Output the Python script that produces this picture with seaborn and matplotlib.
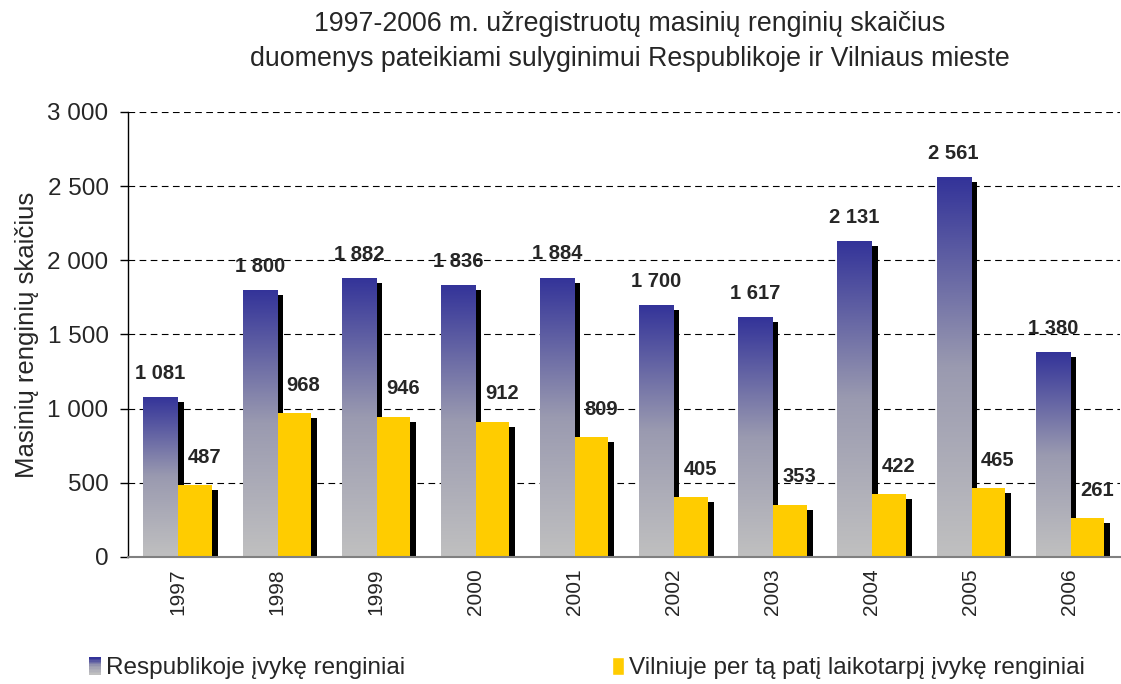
import numpy as np
import pandas as pd
import matplotlib
matplotlib.use('Agg')
import matplotlib.pyplot as plt
import matplotlib.patheffects as pe
from matplotlib.colors import LinearSegmentedColormap
from matplotlib.legend_handler import HandlerBase
from matplotlib.patches import Rectangle, Patch
from matplotlib.ticker import FuncFormatter
import seaborn as sns

# Data
years = ['1997', '1998', '1999', '2000', '2001', '2002', '2003', '2004', '2005', '2006']
respublika = [1081, 1800, 1882, 1836, 1884, 1700, 1617, 2131, 2561, 1380]
vilnius = [487, 968, 946, 912, 809, 405, 353, 422, 465, 261]
series_names = ['Respublikoje įvykę renginiai', 'Vilniuje per tą patį laikotarpį įvykę renginiai']

TITLE_1 = '1997-2006 m. užregistruotų masinių renginių skaičius'
TITLE_2 = 'duomenys pateikiami sulyginimui Respublikoje ir Vilniaus mieste'

BLUE_TOP = '#333399'
GRAY_BOTTOM = '#c0c0c0'
YELLOW = '#ffcc00'
grad_cmap = LinearSegmentedColormap.from_list('bluegray', [GRAY_BOTTOM, '#9a9ab0', BLUE_TOP])


def fmt_thousands(v, pos=None):
    return f'{int(v):,}'.replace(',', ' ')


class GradientHandler(HandlerBase):
    """ Legend handle with vertical gradient. """
    def create_artists(self, legend, orig_handle, xdescent, ydescent, width, height, fontsize, trans):
        n = 12
        arts = []
        for i in range(n):
            r = Rectangle((-xdescent, -ydescent + i * height / n), width, height / n + 0.3,
                          facecolor=grad_cmap(i / (n - 1)), edgecolor='none', transform=trans)
            arts.append(r)
        return arts


sns.set_style('white')
plt.rcParams['font.family'] = ['Liberation Sans', 'DejaVu Sans']

df = pd.DataFrame({
    'year': years * 2,
    'value': respublika + vilnius,
    'series': [series_names[0]] * len(years) + [series_names[1]] * len(years),
})

fig = plt.figure(figsize=(11.21, 6.84), dpi=100)
ax = fig.add_axes([0.1142, 0.1857, 0.8845, 0.6506])

sns.barplot(data=df, x='year', y='value', hue='series', palette=[BLUE_TOP, YELLOW],
            width=0.69, gap=0, saturation=1, ax=ax, legend=False, errorbar=None)

# Shadows and gradient
shadow = [pe.SimplePatchShadow(offset=(4.3, -3.6), shadow_rgbFace='black', alpha=1), pe.Normal()]
n = len(years)
bars = list(ax.patches)
grad = np.linspace(1, 0, 256).reshape(-1, 1)
for i, p in enumerate(bars):
    p.set_path_effects(shadow)
    p.set_edgecolor('none')
    if i < n:
        x0, w, h = p.get_x(), p.get_width(), p.get_height()
        im = ax.imshow(grad, cmap=grad_cmap, extent=(x0, x0 + w, 0, h), aspect='auto',
                       zorder=p.get_zorder() + 0.01, interpolation='bicubic')
        im.set_clip_path(p)

ax.set_xlim(-0.5, 9.5)
ax.set_ylim(0, 3000)

# Value labels
for i, p in enumerate(bars):
    cx = p.get_x() + p.get_width() / 2
    h = p.get_height()
    if i < n:
        off = (0, 13)
    else:
        off = (7, 16)
    ax.annotate(fmt_thousands(h), (cx, h), xytext=off, textcoords='offset points',
                ha='center', va='baseline', fontsize=14.5, fontweight='bold', zorder=5)

# Axes styling
ax.set_yticks(np.arange(0, 3001, 500))
ax.yaxis.set_major_formatter(FuncFormatter(fmt_thousands))
ax.grid(axis='y', color='black', linestyle=(0, (6, 4)), linewidth=0.8)
ax.set_axisbelow(True)
for s in ['top', 'right']:
    ax.spines[s].set_visible(False)
ax.spines['left'].set_color('black')
ax.spines['left'].set_linewidth(1)
ax.spines['bottom'].set_color('#808080')
ax.spines['bottom'].set_linewidth(1.5)
ax.tick_params(axis='y', direction='out', length=6, width=1, color='black', labelsize=17.5, pad=8, left=True)
ax.set_xticks(np.arange(-0.5, 10, 1), minor=True)
ax.tick_params(axis='x', which='minor', direction='out', length=6, width=1, color='black')
ax.tick_params(axis='x', which='major', length=0, labelsize=15, pad=8, labelrotation=90)
ax.set_xlabel('')
ax.set_ylabel('Masinių renginių skaičius', fontsize=18.5, labelpad=6)

fig.text(0.562, 0.965, TITLE_1, ha='center', va='center', fontsize=19.3)
fig.text(0.562, 0.914, TITLE_2, ha='center', va='center', fontsize=19.3)

handles = [Patch(label=series_names[0]), Patch(facecolor=YELLOW, label=series_names[1])]
fig.legend(handles=handles, loc='center left', bbox_to_anchor=(0.06, 0.023), ncol=2, frameon=False,
           fontsize=17.5, handlelength=0.5, handleheight=0.75, handletextpad=0.2, columnspacing=8.5,
           handler_map={handles[0]: GradientHandler()})

fig.savefig('out.png', dpi=100)
